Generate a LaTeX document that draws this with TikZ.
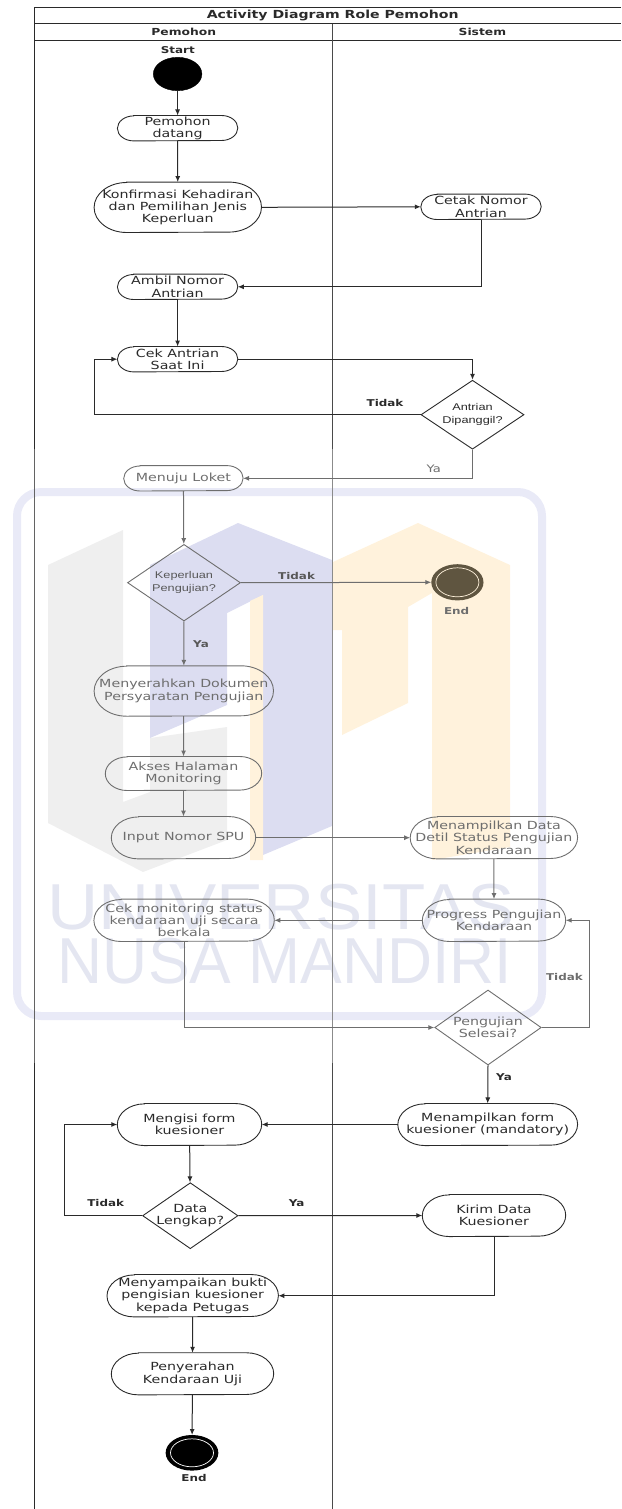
\documentclass[tikz,border=0pt]{standalone}
\usepackage{fontspec}
\usetikzlibrary{arrows.meta,calc,shapes.geometric}
\newfontfamily\djf[FakeStretch=1.27]{DejaVu Sans}
\newfontfamily\lbf[FakeStretch=1.3]{Liberation Sans}
\newfontfamily\wmf{Liberation Sans}
\definecolor{ink}{HTML}{2A2A2A}
\definecolor{band}{HTML}{6E6E6E}
\definecolor{wmframe}{HTML}{E9EAF7}
\definecolor{wmgray}{HTML}{EFEFEF}
\definecolor{wmblue}{HTML}{DCDDF1}
\definecolor{wmorange}{HTML}{FFF2DC}
\definecolor{wmtext}{HTML}{E4E6F1}
\definecolor{wmbrown}{HTML}{5F5540}
\tikzset{
  x=1pt,y=-1pt,
  txt/.style={font=\djf\fontsize{11.2}{12.3}\selectfont,align=center,inner sep=0pt,text=ink},
  smalltxt/.style={font=\lbf\fontsize{9.8}{12.5}\selectfont,align=center,text=ink},
  lbl/.style={font=\djf\bfseries\fontsize{9.4}{11}\selectfont,inner sep=0pt,text=ink},
  head/.style={font=\djf\bfseries\fontsize{9.7}{11}\selectfont,inner sep=0pt,text=ink},
  conn/.style={draw=ink,line width=1pt,-{Latex[length=6pt,width=5pt]}},
  gconn/.style={draw=band,line width=1pt,-{Latex[length=6pt,width=5pt]}},
  dia/.style={diamond,draw=ink,line width=0.9pt,inner sep=-4pt,aspect=1.5},
  gdia/.style={dia,draw=band},
  lane/.style={draw=ink,line width=1pt},
}
\newcommand{\pill}[7][ink]{% colour, name, cx, cy, w, h, text
  \node[txt,text=#1,minimum width=#5pt,minimum height=#6pt] (#2) at (#3,#4) {#7};
  \pgfmathsetmacro{\pillrx}{0.65*#6}
  \pgfmathsetmacro{\pillry}{0.5*#6}
  \draw[draw=#1,line width=0.9pt]
    ($(#2.north west)+(\pillrx pt,0pt)$) -- ($(#2.north east)-(\pillrx pt,0pt)$)
    arc[start angle=90,end angle=-90,x radius=\pillrx pt,y radius=\pillry pt]
    -- ($(#2.south west)+(\pillrx pt,0pt)$)
    arc[start angle=270,end angle=90,x radius=\pillrx pt,y radius=\pillry pt] -- cycle;
}
\begin{document}
\begin{tikzpicture}
\useasboundingbox (0,0) rectangle (621,1509);
% ---- watermark
\draw[wmframe,line width=8pt,rounded corners=24pt] (17,492) rectangle (542,1016);
\fill[wmgray] (48,565)--(123,530)--(123,802)--(150,792)--(150,738)--(227,727)--(227,840)--(143,872)--(48,823)--cycle;
\fill[wmblue] (150,565)--(238,523)--(332,560)--(332,826)--(263,855)--(263,595)--(227,613)--(227,705)--(150,738)--cycle;
\fill[wmorange] (250,601)--(263,595)--(263,860)--(250,860)--cycle;
\fill[wmorange] (333,562)--(418,523)--(510,565)--(510,847)--(432,860)--(432,593)--(408,607)--(408,703)--(342,735)--(342,630)--(333,630)--cycle;
\node[font=\wmf\fontsize{65}{65}\selectfont,text=wmtext,inner sep=0pt,xscale=1.09,transform shape] (wma) at (281,907) {UNIVERSITAS};
\node[font=\wmf\fontsize{65}{65}\selectfont,text=wmtext,inner sep=0pt,xscale=0.96,transform shape] (wmb) at (285,961) {NUSA MANDIRI};
% ---- swimlane frame
\coordinate (tl) at (34.5,7.5);
\coordinate (tr) at (621,7.5);
\draw[lane] (tr)--(tl)--(34.5,449);
\draw[lane] (34.5,24)--(621,24);
\draw[lane] (34.5,40.7)--(621,40.7);
\draw[draw=ink!85,line width=1.2pt] (332.7,24)--(332.7,449);
\draw[draw=band!90!black,line width=0.9pt] (34.5,449)--(34.5,1063);
\draw[draw=band!80,line width=1.2pt] (332.7,449)--(332.7,1063);
\draw[lane] (34.5,1063)--(34.5,1509);
\draw[draw=ink!85,line width=1.2pt] (332.7,1063)--(332.7,1509);
\node[head,font=\djf\bfseries\fontsize{11.1}{11}\selectfont] (title) at (332.7,15) {Activity Diagram Role Pemohon};
\node[head] (laneA) at (183.8,32) {Pemohon};
\node[head] (laneB) at (482.4,32) {Sistem};
% ---- upper part
\node[lbl] (startlbl) at (177.8,50.2) {Start};
\node[ellipse,fill=black,draw=black,inner sep=0pt,minimum width=48.6pt,minimum height=33.4pt] (start) at (177.6,74) {};
\pill{datang}{177.6}{128.2}{120}{25}{Pemohon\\datang}
\pill{konf}{177.8}{207.3}{167}{50}{Konfirmasi Kehadiran\\dan Pemilihan Jenis\\Keperluan}
\pill{cetak}{481}{206.8}{120}{25}{Cetak Nomor\\Antrian}
\pill{ambil}{177.6}{286.8}{120}{25}{Ambil Nomor\\Antrian}
\pill{cek}{177.6}{359.2}{120}{25}{Cek Antrian\\Saat Ini}
\node[dia,smalltxt,minimum width=103pt,minimum height=69pt] (dq) at (472.5,414.7) {Antrian\\Dipanggil?};
\draw[conn] (start)--(datang);
\draw[conn] (datang)--(konf);
\draw[conn] (konf.east)--(cetak.west);
\draw[conn] (cetak.south)|-(ambil.east);
\draw[conn] (ambil)--(cek);
\draw[conn] (cek.east)-|(dq.north);
\coordinate (loopa) at (94.3,414.7);
\draw[conn] (dq.west)--(loopa)|-(cek.west);
\node[lbl] (ltidak1) at (385,402.7) {Tidak};
% ---- faded part
\pill[band]{loket}{183.4}{478.3}{119}{25}{Menuju Loket}
\node[gdia,smalltxt,text=band!80!black,minimum width=113pt,minimum height=76.7pt] (dk) at (184,582.7) {Keperluan\\Pengujian?};
\node[ellipse,fill=wmbrown,draw=wmbrown,inner sep=0pt,minimum width=51pt,minimum height=35pt,line width=1.2pt] (end1) at (457.4,582.3) {};
\draw[wmorange,line width=0.7pt] (end1.center) ellipse [x radius=21.5pt,y radius=14.5pt];
\node[lbl,text=band] (end1lbl) at (456.6,611) {End};
\pill[band]{serah}{183.8}{691}{179}{50}{Menyerahkan Dokumen\\Persyaratan Pengujian}
\pill[band]{akses}{183.5}{773.5}{156}{33.6}{Akses Halaman\\Monitoring}
\pill[band]{input}{183.5}{837.7}{144}{42}{Input Nomor SPU}
\pill[band]{detil}{493.9}{837.7}{167}{42}{Menampilkan Data\\Detil Status Pengujian\\Kendaraan}
\pill[band]{prog}{494}{920.3}{143}{42}{Progress Pengujian\\Kendaraan}
\pill[band]{mon}{184.1}{920.3}{180}{42}{Cek monitoring status\\kendaraan uji secara\\berkala}
\node[gdia,txt,inner sep=-4pt,text=band,minimum width=106.5pt,minimum height=75pt] (dp) at (488,1027.5) {Pengujian\\Selesai?};
\draw[gconn] (dq.south)|-(loket.east);
\node[lbl,font=\djf\fontsize{10.3}{11}\selectfont,text=band] (lya1) at (433.7,469.3) {Ya};
\draw[gconn] (loket)--(dk);
\draw[gconn] (dk.east)--(end1.west);
\node[lbl,text=band!80!black] (ltidak2) at (296.6,576) {Tidak};
\draw[gconn] (dk)--(serah);
\node[lbl,text=band!80!black] (lya2) at (201,644.3) {Ya};
\draw[gconn] (serah)--(akses);
\draw[gconn] (akses)--(input);
\draw[gconn] (input.east)--(detil.west);
\draw[gconn] (detil)--(prog);
\draw[gconn] (prog.west)--(mon.east);
\draw[gconn] (mon.south)|-(dp.west);
\coordinate (loopb) at (589.3,1027.5);
\draw[gconn] (dp.east)--(loopb)|-(prog.east);
\node[lbl,text=band] (ltidak3) at (564.4,977) {Tidak};
% ---- lower part
\pill{mengisi}{189.5}{1124.5}{144}{41.7}{Mengisi form\\kuesioner}
\pill{formk}{487.7}{1124.5}{179.4}{41.7}{Menampilkan form\\kuesioner (mandatory)}
\node[dia,txt,inner sep=-4pt,minimum width=95.4pt,minimum height=66pt] (dd) at (190.3,1215.7) {Data\\Lengkap?};
\pill{kirim}{494}{1215.5}{143}{41.7}{Kirim Data\\Kuesioner}
\pill{bukti}{192.7}{1295.7}{171}{42}{Menyampaikan bukti\\pengisian kuesioner\\kepada Petugas}
\pill{kend}{192.5}{1373.8}{162}{41.7}{Penyerahan\\Kendaraan Uji}
\node[ellipse,fill=black,draw=black,inner sep=0pt,minimum width=51.5pt,minimum height=34.4pt,line width=1.2pt] (end2) at (192,1452.8) {};
\draw[white,line width=0.7pt] (end2.center) ellipse [x radius=21.5pt,y radius=14pt];
\node[lbl] (end2lbl) at (194,1478.3) {End};
\draw[conn] (dp.south)--(formk.north);
\node[lbl] (lya3) at (504,1077) {Ya};
\draw[conn] (formk.west)--(mengisi.east);
\draw[conn] (mengisi)--(dd);
\coordinate (loopc) at (64.6,1215.7);
\draw[conn] (dd.west)--(loopc)|-(mengisi.west);
\node[lbl] (ltidak4) at (105.7,1203.3) {Tidak};
\node[lbl] (lya4) at (296.6,1203.3) {Ya};
\draw[conn] (dd.east)--(kirim.west);
\draw[conn] (kirim.south)|-(bukti.east);
\draw[conn] (bukti)--(kend);
\draw[conn] (kend)--(end2);
\end{tikzpicture}
\end{document}
